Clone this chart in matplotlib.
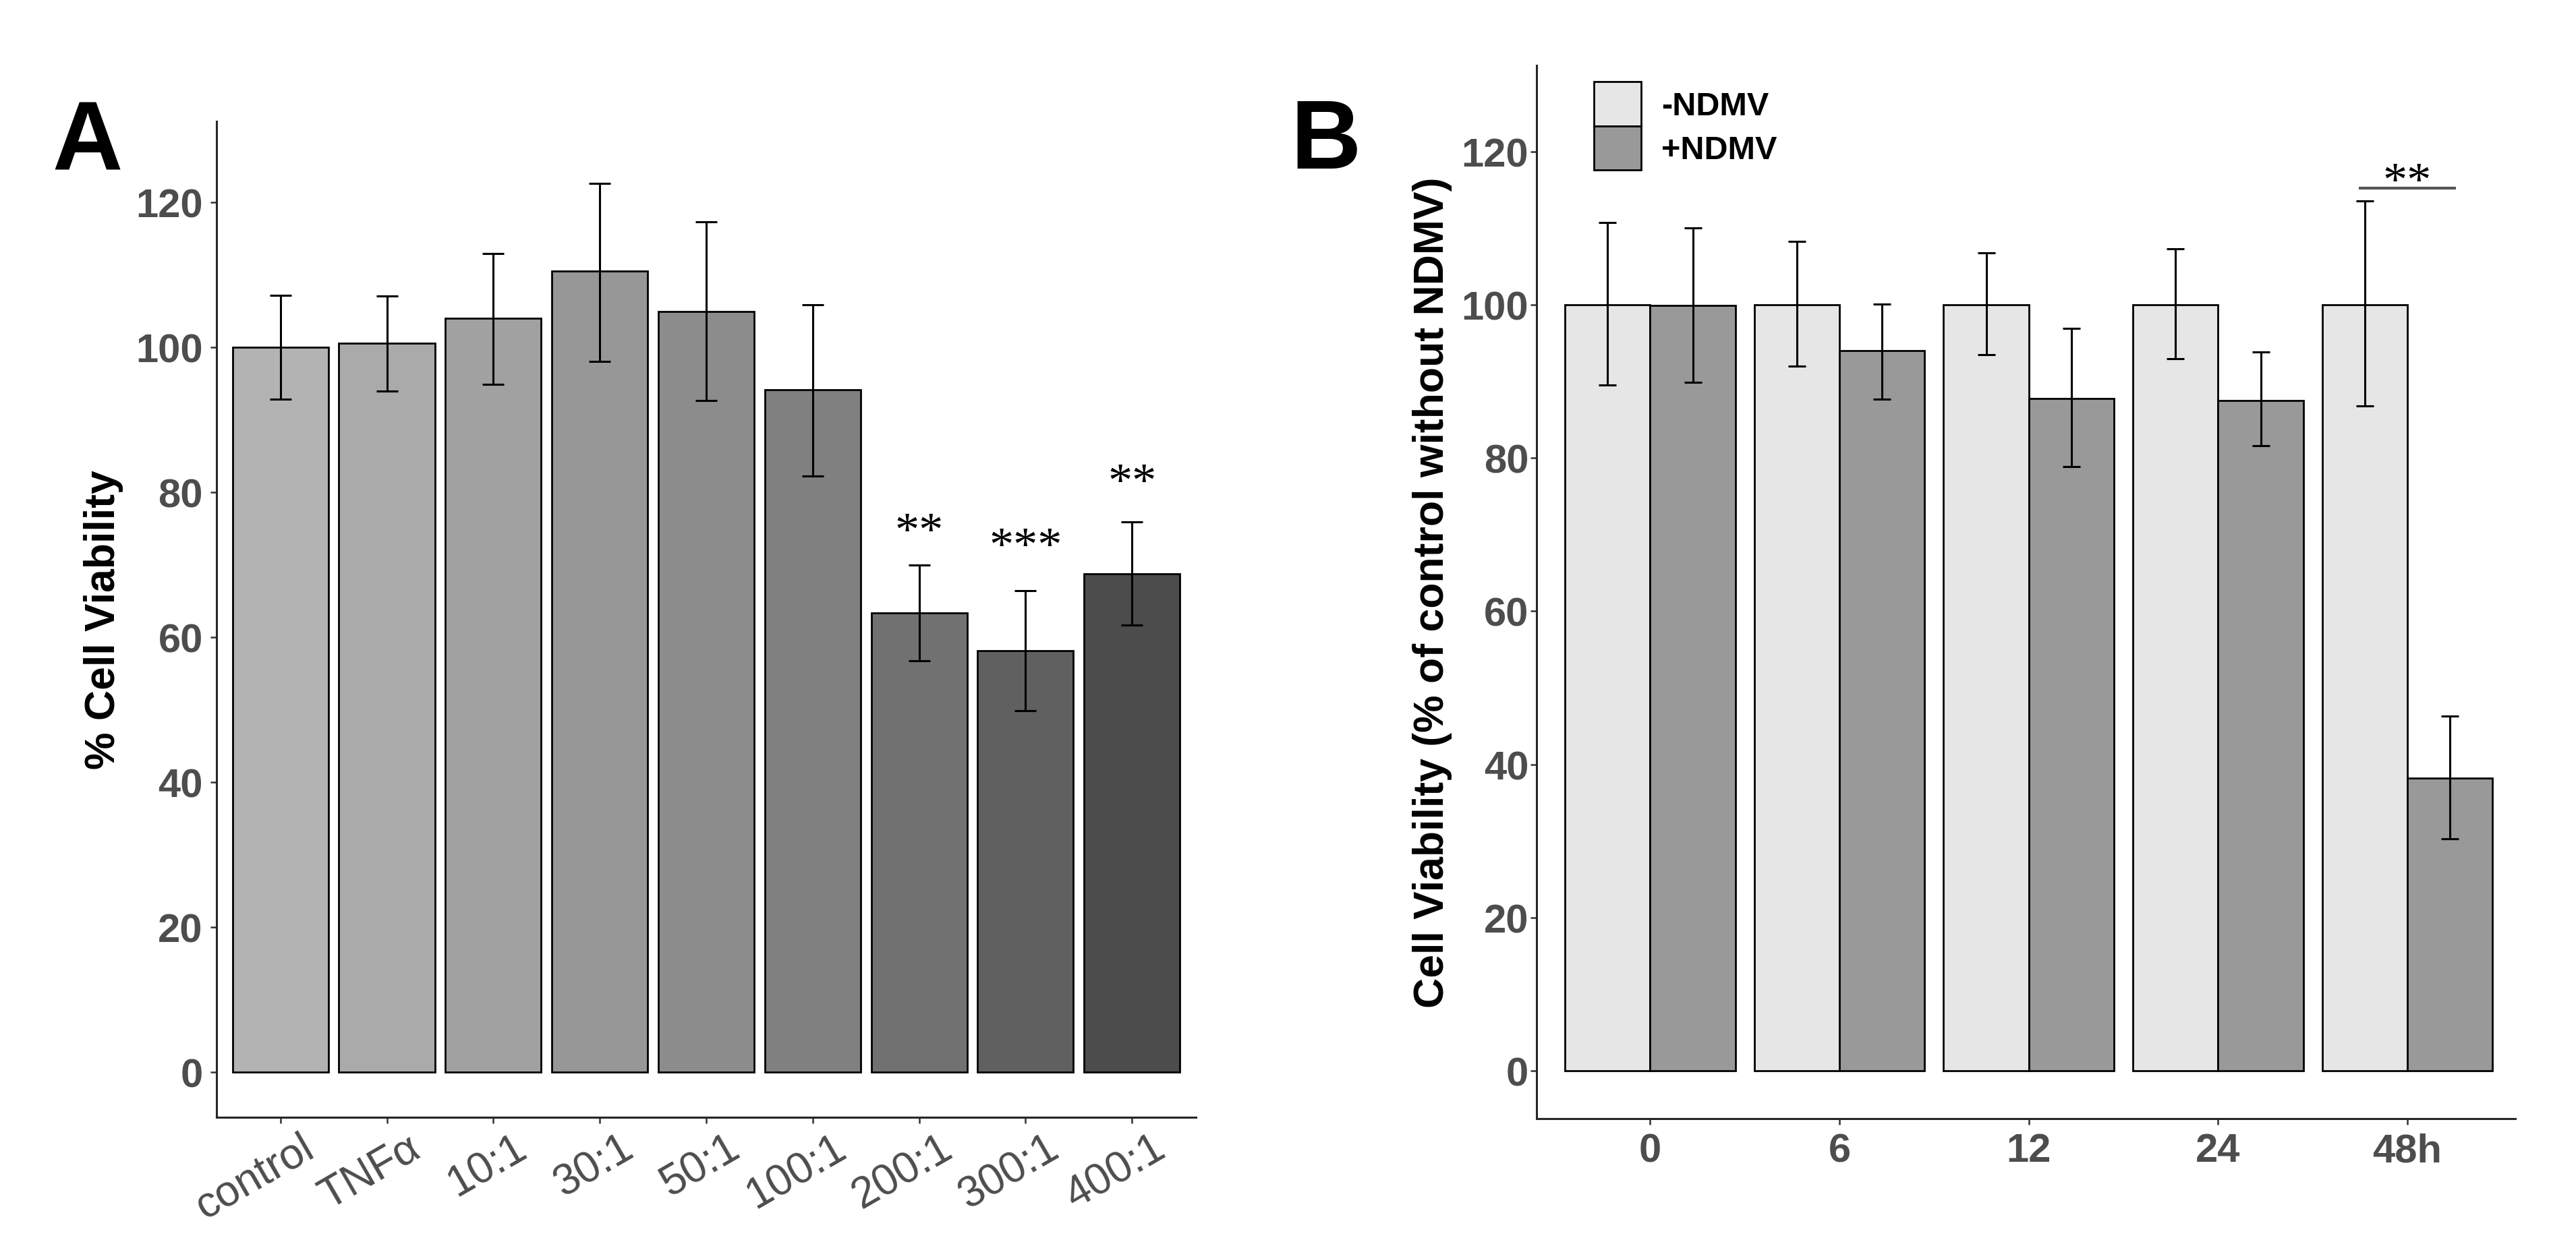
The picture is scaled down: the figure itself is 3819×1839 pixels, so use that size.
import matplotlib
matplotlib.use("Agg")
import matplotlib.pyplot as plt
import matplotlib.transforms as mtransforms
import numpy as np

plt.rcParams['font.family'] = ['Liberation Sans', 'DejaVu Sans']

# ---------------- Panel A data ----------------
a_categories = ["control", "TNF\u03b1", "10:1", "30:1", "50:1", "100:1", "200:1", "300:1", "400:1"]
a_means = [100.0, 100.6, 104.0, 110.5, 105.0, 94.2, 63.4, 58.2, 68.8]
a_upper = [107.2, 107.1, 113.0, 122.6, 117.3, 105.9, 70.0, 66.4, 75.9]
a_lower = [92.9, 94.0, 94.9, 98.1, 92.7, 82.3, 56.8, 49.9, 61.7]
a_colors = ["#B3B3B3", "#AAAAAA", "#A1A1A1", "#979797", "#8C8C8C",
            "#808080", "#717171", "#606060", "#4C4C4C"]
a_sig_labels = ["**", "***", "**"]
a_sig_index = [6, 7, 8]
a_sig_center = [75.9, 73.8, 82.7]
a_yticks = [0, 20, 40, 60, 80, 100, 120]

# ---------------- Panel B data ----------------
b_times = ["0", "6", "12", "24", "48h"]
b_groups = ["-NDMV", "+NDMV"]
b_minus_mean = [100.0, 100.0, 100.0, 100.0, 100.0]
b_minus_upper = [110.7, 108.3, 106.8, 107.3, 113.6]
b_minus_lower = [89.5, 92.0, 93.5, 93.0, 86.8]
b_plus_mean = [99.9, 94.0, 87.8, 87.5, 38.2]
b_plus_upper = [110.0, 100.1, 96.9, 93.8, 46.3]
b_plus_lower = [89.9, 87.7, 78.9, 81.6, 30.3]
b_colors = ["#E6E6E6", "#999999"]
b_sig_label = "**"
b_sig_index = 4
b_sig_line_y = 115.2
b_sig_center = 117.3
b_yticks = [0, 20, 40, 60, 80, 100, 120]

W, H = 3819, 1840
DPI = 100
fig = plt.figure(figsize=(W / DPI, H / DPI), dpi=DPI)
fig.patch.set_facecolor("white")

TICK_GREY = "#4D4D4D"
SPINE = "#262626"
BAR_LW = 2.0
ERR_LW = 2.2
STAR_SIZE = 52
STAR_FAMILY = ["Liberation Serif", "DejaVu Serif"]


def style_axes(ax, pad_y, pad_x):
    for s in ["top", "right"]:
        ax.spines[s].set_visible(False)
    for s in ["left", "bottom"]:
        ax.spines[s].set_color(SPINE)
        ax.spines[s].set_linewidth(2.2)
    ax.tick_params(axis="both", length=6.5, width=1.8, color="#333333",
                   labelsize=43, labelcolor=TICK_GREY)
    ax.tick_params(axis="y", pad=pad_y)
    ax.tick_params(axis="x", pad=pad_x)
    ax.set_facecolor("white")


# ================= Panel A =================
axA = fig.add_axes([321 / W, 1 - 1658 / H, 1452 / W, (1658 - 181) / H])
xa = np.arange(len(a_categories))
a_means_arr = np.array(a_means)
axA.bar(xa, a_means_arr, width=0.9, color=a_colors, edgecolor="black",
        linewidth=BAR_LW, zorder=2)
axA.errorbar(xa, a_means_arr,
             yerr=[a_means_arr - np.array(a_lower), np.array(a_upper) - a_means_arr],
             fmt="none", ecolor="black", elinewidth=ERR_LW, capsize=11.5,
             capthick=ERR_LW, zorder=3)
axA.set_xlim(-0.6, len(a_categories) - 0.4)
axA.set_ylim(-6.23, 131.2)
axA.set_yticks(a_yticks)
axA.set_xticks(xa)
axA.set_xticklabels(a_categories)
style_axes(axA, pad_y=8, pad_x=4)
for lab in axA.get_yticklabels():
    lab.set_fontweight("bold")
offset = mtransforms.ScaledTranslation(30 / DPI, 0, fig.dpi_scale_trans)
for lab in axA.get_xticklabels():
    lab.set_rotation(30)
    lab.set_ha("right")
    lab.set_va("top")
    lab.set_rotation_mode("anchor")
    lab.set_fontsize(46)
    lab.set_transform(lab.get_transform() + offset)
axA.set_ylabel("% Cell Viability", fontsize=45, fontweight="bold", color="black")
axA.yaxis.set_label_coords(-0.095, 0.5)

star_off = mtransforms.offset_copy(axA.transData, fig=fig, x=0, y=-24, units="points")
for lab, idx, yc in zip(a_sig_labels, a_sig_index, a_sig_center):
    axA.text(xa[idx], yc, lab, transform=star_off, ha="center", va="baseline",
             fontsize=STAR_SIZE, family=STAR_FAMILY, color="black")

fig.text(77 / W, 1 - 252 / H, "A", fontsize=104, fontweight="bold", ha="left",
         va="baseline", color="black")

# ================= Panel B =================
axB = fig.add_axes([2278 / W, 1 - 1660 / H, 1451 / W, (1660 - 98) / H])
xb = np.arange(len(b_times))
bw = 0.45
m1 = np.array(b_minus_mean)
m2 = np.array(b_plus_mean)
bars1 = axB.bar(xb - bw / 2, m1, width=bw, color=b_colors[0], edgecolor="black",
                linewidth=BAR_LW, zorder=2, label=b_groups[0])
bars2 = axB.bar(xb + bw / 2, m2, width=bw, color=b_colors[1], edgecolor="black",
                linewidth=BAR_LW, zorder=2, label=b_groups[1])
axB.errorbar(xb - bw / 2, m1,
             yerr=[m1 - np.array(b_minus_lower), np.array(b_minus_upper) - m1],
             fmt="none", ecolor="black", elinewidth=ERR_LW, capsize=9.7,
             capthick=ERR_LW, zorder=3)
axB.errorbar(xb + bw / 2, m2,
             yerr=[m2 - np.array(b_plus_lower), np.array(b_plus_upper) - m2],
             fmt="none", ecolor="black", elinewidth=ERR_LW, capsize=9.7,
             capthick=ERR_LW, zorder=3)
axB.set_xlim(-0.6, len(b_times) - 0.43)
axB.set_ylim(-6.25, 131.25)
axB.set_yticks(b_yticks)
axB.set_xticks(xb)
axB.set_xticklabels(b_times)
style_axes(axB, pad_y=2, pad_x=8)
for lab in axB.get_yticklabels() + axB.get_xticklabels():
    lab.set_fontweight("bold")
axB.set_ylabel("Cell Viability (% of control without NDMV)", fontsize=45,
               fontweight="bold", color="black")
axB.yaxis.set_label_coords(-0.086, 0.5)

# significance bracket
axB.plot([xb[b_sig_index] - bw / 2 - 0.03, xb[b_sig_index] + bw / 2 + 0.03],
         [b_sig_line_y, b_sig_line_y], color="#555555", linewidth=3.0, zorder=3,
         solid_capstyle="butt")
star_offB = mtransforms.offset_copy(axB.transData, fig=fig, x=0, y=-24, units="points")
axB.text(xb[b_sig_index], b_sig_center, b_sig_label, transform=star_offB,
         ha="center", va="baseline", fontsize=STAR_SIZE, family=STAR_FAMILY,
         color="black")

leg = axB.legend(handles=[bars1, bars2], labels=b_groups, loc="upper left",
                 bbox_to_anchor=((2363 - 2278) / 1451, 1 - (122 - 98) / 1562),
                 frameon=False, borderpad=0, borderaxespad=0, labelspacing=0,
                 handlelength=1.45, handleheight=1.7, handletextpad=0.6,
                 prop={"weight": "bold", "size": 35})

fig.text(1913 / W, 1 - 250 / H, "B", fontsize=104, fontweight="bold", ha="left",
         va="baseline", color="black")

fig.savefig("out.png", dpi=DPI, facecolor="white")
